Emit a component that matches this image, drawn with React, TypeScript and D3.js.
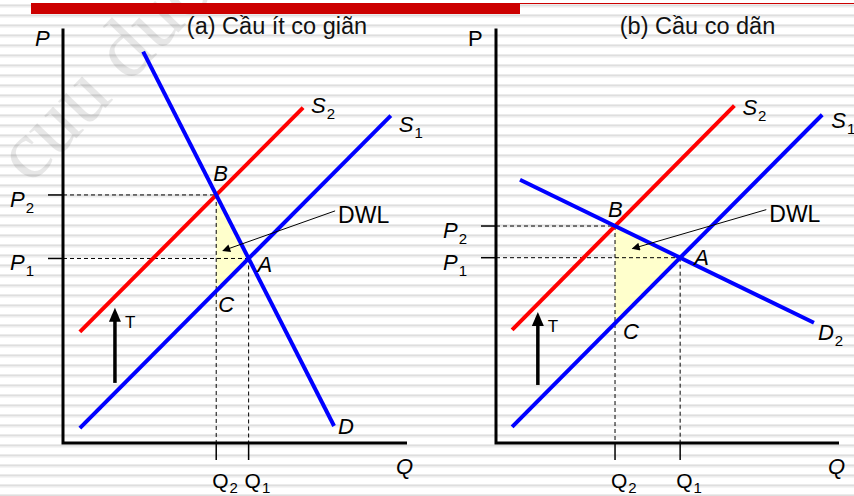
import * as d3 from 'd3'

type Pt = [number, number]

const TITLES = ['(a) Cầu ít co giãn', '(b) Cầu co dãn']

// curve end points in (Q, P) units of each panel's axes
const DEMAND_A: Pt[] = [[2.33, 9.44], [7.88, 0.41]]
const SUPPLY1_A: Pt[] = [[0.49, 0.36], [9.53, 7.9]]
const SUPPLY2_A: Pt[] = [[0.49, 2.68], [6.98, 8.09]]
const TAX_A: Pt[] = [[1.51, 1.45], [1.51, 3.26]]
const DWL_A: Pt[] = [[7.91, 5.6], [4.65, 4.64]]

const DEMAND_B: Pt[] = [[0.7, 6.35], [9.27, 2.9]]
const SUPPLY1_B: Pt[] = [[0.47, 0.39], [9.51, 7.92]]
const SUPPLY2_B: Pt[] = [[0.47, 2.73], [6.95, 8.14]]
const TAX_B: Pt[] = [[1.22, 1.4], [1.22, 3.16]]
const DWL_B: Pt[] = [[7.88, 5.63], [3.98, 4.69]]

const DEMAND_NAMES = [['D', ''], ['D', '2']]

const W = 854
const H = 496
const FONT = '"Liberation Sans", Arial, sans-serif'

function intersect(a: Pt[], b: Pt[]): Pt {
  const [[x1, y1], [x2, y2]] = a
  const [[x3, y3], [x4, y4]] = b
  const d = (x1 - x2) * (y3 - y4) - (y1 - y2) * (x3 - x4)
  const t = ((x1 - x3) * (y3 - y4) - (y1 - y3) * (x3 - x4)) / d
  return [x1 + t * (x2 - x1), y1 + t * (y2 - y1)]
}

function atQ(l: Pt[], q: number): Pt {
  const [[x1, y1], [x2, y2]] = l
  return [q, y1 + ((q - x1) / (x2 - x1)) * (y2 - y1)]
}

interface LabelProps {
  x: number
  y: number
  main: string
  sub?: string
  italic?: boolean
  size?: number
  subDy?: number
}

function Label({ x, y, main, sub, italic = true, size = 21, subDy = 6 }: LabelProps) {
  return (
    <text x={x} y={y} fontFamily={FONT} fontSize={size} fontStyle={italic ? 'italic' : 'normal'} fill="#000">
      {main}
      {sub ? <tspan fontStyle="normal" fontSize={15} dy={subDy} dx={1}>{sub}</tspan> : null}
    </text>
  )
}

interface PanelProps {
  idx: number
  xRange: [number, number]
  titleShift: number
  demand: Pt[]
  s1: Pt[]
  s2: Pt[]
  tax: Pt[]
  dwl: Pt[]
  italicP: boolean
  off: { b: Pt; a: Pt; c: Pt; d: Pt; s1: Pt; s2: Pt }
}

function Panel({ idx, xRange, titleShift, demand, s1, s2, tax, dwl, italicP, off }: PanelProps) {
  const x = d3.scaleLinear().domain([0, 10]).range(xRange)
  const y = d3.scaleLinear().domain([0, 10]).range([443, 28.5])
  const line = d3.line<Pt>().x(d => x(d[0])).y(d => y(d[1]))

  const B = intersect(demand, s2)
  const A = intersect(demand, s1)
  const C = atQ(s1, B[0])

  const x0 = x(0)
  const y0 = y(0)
  const dash = '4,3'

  const taxTop = y(tax[1][1])
  const taxX = x(tax[0][0])
  const [dn, ds] = DEMAND_NAMES[idx]

  return (
    <g>
      <text x={(xRange[0] + xRange[1]) / 2 + titleShift} y={34} textAnchor="middle" fontFamily={FONT} fontSize={23.5} fill="#111">
        {TITLES[idx]}
      </text>

      {/* dead-weight loss */}
      <path d={line([B, A, C])! + 'Z'} fill="#ffffcc" />

      {/* dashed guides */}
      <g stroke="#000" strokeWidth={1} strokeDasharray={dash} fill="none">
        <line x1={x0} x2={x(B[0])} y1={y(B[1])} y2={y(B[1])} />
        <line x1={x0} x2={x(A[0])} y1={y(A[1])} y2={y(A[1])} />
        <line x1={x(B[0])} x2={x(B[0])} y1={y(B[1])} y2={y0} />
        <line x1={x(A[0])} x2={x(A[0])} y1={y(A[1])} y2={y0} />
      </g>

      {/* ticks */}
      <g stroke="#000" strokeWidth={1.5}>
        <line x1={x0 - 15} x2={x0} y1={y(B[1])} y2={y(B[1])} />
        <line x1={x0 - 15} x2={x0} y1={y(A[1])} y2={y(A[1])} />
        <line x1={x(B[0])} x2={x(B[0])} y1={y0} y2={y0 + 17} />
        <line x1={x(A[0])} x2={x(A[0])} y1={y0} y2={y0 + 17} />
      </g>

      {/* axes */}
      <path d={`M${x0},${y(10)}V${y0}H${x(10)}`} fill="none" stroke="#000" strokeWidth={3} />

      {/* curves */}
      <path d={line(s2)!} stroke="#ff0000" strokeWidth={4} fill="none" />
      <path d={line(s1)!} stroke="#0000ff" strokeWidth={4} fill="none" />
      <path d={line(demand)!} stroke="#0000ff" strokeWidth={4} fill="none" />

      {/* tax arrow */}
      <line x1={taxX} x2={taxX} y1={y(tax[0][1])} y2={taxTop + 10} stroke="#000" strokeWidth={3.5} />
      <path d={`M${taxX},${taxTop}L${taxX - 6},${taxTop + 14}L${taxX + 6},${taxTop + 14}Z`} fill="#000" />
      <Label x={taxX + 10} y={taxTop + 20} main="T" italic={false} size={17} />

      {/* DWL pointer */}
      <line x1={x(dwl[0][0])} y1={y(dwl[0][1])} x2={x(dwl[1][0])} y2={y(dwl[1][1])} stroke="#000" strokeWidth={1} markerEnd="url(#arrowHead)" />
      <Label x={x(dwl[0][0]) + 3} y={y(dwl[0][1]) + 12} main="DWL" italic={false} size={23} />

      {/* point and curve labels */}
      <Label x={x(B[0]) + off.b[0]} y={y(B[1]) + off.b[1]} main="B" size={22} />
      <Label x={x(A[0]) + off.a[0]} y={y(A[1]) + off.a[1]} main="A" size={22} />
      <Label x={x(C[0]) + off.c[0]} y={y(C[1]) + off.c[1]} main="C" size={22} />
      <Label x={x(demand[1][0]) + off.d[0]} y={y(demand[1][1]) + off.d[1]} main={dn} sub={ds} size={22} />
      <Label x={x(s2[1][0]) + off.s2[0]} y={y(s2[1][1]) + off.s2[1]} main="S" sub="2" size={22} />
      <Label x={x(s1[1][0]) + off.s1[0]} y={y(s1[1][1]) + off.s1[1]} main="S" sub="1" size={22} />

      <Label x={x0 - 53} y={y(B[1]) + 12} main="P" sub="2" size={22} />
      <Label x={x0 - 53} y={y(A[1]) + 12} main="P" sub="1" size={22} />
      <Label x={x(B[0]) - 4} y={y0 + 45} main="Q" sub="2" italic={false} subDy={5} />
      <Label x={x(A[0]) - 4} y={y0 + 45} main="Q" sub="1" italic={false} subDy={5} />
      <Label x={x0 - 28} y={46} main="P" italic={italicP} size={22} />
      <Label x={x(10) - 11} y={y0 + 31} main="Q" size={22} />
    </g>
  )
}

export default function App() {
  return (
    <svg width={W} height={H} style={{ position: 'absolute', left: 0, top: 0 }}>
      <defs>
        <pattern id="stripes" width={10} height={10} patternUnits="userSpaceOnUse">
          <rect x={0} y={4} width={10} height={1} fill="#ebebeb" />
          <rect x={0} y={5} width={10} height={1.5} fill="#dedede" />
          <rect x={0} y={6.5} width={10} height={1} fill="#ebebeb" />
        </pattern>
        <marker id="arrowHead" viewBox="0 0 10 10" refX={9} refY={5} markerWidth={10} markerHeight={8} markerUnits="userSpaceOnUse" orient="auto">
          <path d="M0,0L10,5L0,10Z" fill="#000" />
        </marker>
      </defs>

      <rect width={W} height={H} fill="#fff" />
      <rect width={W} height={H} fill="url(#stripes)" />

      <text transform="translate(30,186) rotate(-46)" fontFamily="'Liberation Serif', serif" fontSize={84} fill="#000" opacity={0.09}>
        cuu duong than cong . com
      </text>

      <rect x={31} y={3} width={489} height={11} fill="#cc0000" />
      <rect x={520} y={3} width={W - 520} height={1} fill="#cc0000" />

      <Panel idx={0} xRange={[63, 407]} titleShift={42} demand={DEMAND_A} s1={SUPPLY1_A} s2={SUPPLY2_A} tax={TAX_A} dwl={DWL_A} italicP={true}
        off={{ b: [-3, -14], a: [9, 14], c: [2, 21], d: [4, 8], s1: [8, 16], s2: [8, 5] }} />
      <Panel idx={1} xRange={[496, 839]} titleShift={30} demand={DEMAND_B} s1={SUPPLY1_B} s2={SUPPLY2_B} tax={TAX_B} dwl={DWL_B} italicP={false}
        off={{ b: [-7, -9], a: [14, 7], c: [8, 16], d: [4, 17], s1: [9, 13], s2: [8, 9] }} />
    </svg>
  )
}
